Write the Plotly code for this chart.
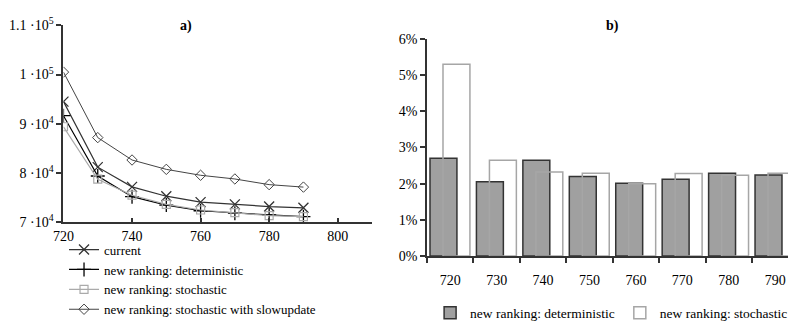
import plotly.graph_objects as go

# ---- data panel a ----
x_a = [720, 730, 740, 750, 760, 770, 780, 790]
current = [94500, 81200, 77200, 75300, 74100, 73650, 73200, 72950]
deterministic = [91650, 79400, 75200, 73500, 72350, 71850, 71500, 71150]
stochastic = [89400, 78750, 75500, 73650, 72500, 71950, 71350, 71150]
slowupdate = [100500, 87200, 82650, 80750, 79550, 78800, 77650, 77150]
a_yticks = [70000, 80000, 90000, 100000, 110000]
a_yticktext = ["7 ·10<sup>4</sup>", "8 ·10<sup>4</sup>", "9 ·10<sup>4</sup>",
               "1 ·10<sup>5</sup>", "1.1 ·10<sup>5</sup>"]
a_xticks = [720, 740, 760, 780, 800]

# ---- data panel b ----
cats_b = ["720", "730", "740", "750", "760", "770", "780", "790"]
det_pct = [2.70, 2.05, 2.65, 2.20, 2.01, 2.12, 2.29, 2.24]
sto_pct = [5.30, 2.65, 2.32, 2.29, 2.00, 2.28, 2.23, 2.29]
b_yticks = [0, 1, 2, 3, 4, 5, 6]
b_yticktext = [f"{v}%" for v in b_yticks]

FONT = "Liberation Serif, Times New Roman, Times, serif"
AX = "#333333"
W, H = 788, 313  # page body has an 8px margin

fig = go.Figure()

fig.add_trace(go.Scatter(x=x_a, y=current, name="current", mode="lines+markers",
                         line=dict(color="#333333", width=1.2),
                         marker=dict(symbol="x-thin", size=10, line=dict(color="#333333", width=1.3)),
                         xaxis="x", yaxis="y", legend="legend"))
fig.add_trace(go.Scatter(x=x_a, y=deterministic, name="new ranking: deterministic", mode="lines+markers",
                         line=dict(color="#000000", width=1.2),
                         marker=dict(symbol="cross-thin", size=10, line=dict(color="#000000", width=1.3)),
                         xaxis="x", yaxis="y", legend="legend"))
fig.add_trace(go.Scatter(x=x_a, y=stochastic, name="new ranking: stochastic", mode="lines+markers",
                         line=dict(color="#aaaaaa", width=1.2),
                         marker=dict(symbol="square-open", size=8, color="#aaaaaa", line=dict(width=1.2)),
                         xaxis="x", yaxis="y", legend="legend"))
fig.add_trace(go.Scatter(x=x_a, y=slowupdate, name="new ranking: stochastic with slowupdate", mode="lines+markers",
                         line=dict(color="#444444", width=1),
                         marker=dict(symbol="diamond-open", size=8, color="#444444", line=dict(width=1)),
                         xaxis="x", yaxis="y", legend="legend"))

fig.add_trace(go.Bar(x=cats_b, y=det_pct, name="new ranking: deterministic",
                     width=0.58, offset=-0.435,
                     marker=dict(color="#a0a0a0", line=dict(color="#333333", width=1.5)),
                     xaxis="x2", yaxis="y2", legend="legend2"))
fig.add_trace(go.Bar(x=cats_b, y=sto_pct, name="new ranking: stochastic",
                     width=0.58, offset=-0.155,
                     marker=dict(color="rgba(255,255,255,0)", line=dict(color="#a6a6a6", width=1.5)),
                     xaxis="x2", yaxis="y2", legend="legend2"))

common = dict(showgrid=False, zeroline=False, color="#000000", automargin=False,
              tickfont=dict(family=FONT, size=14, color="#000"),
              linecolor=AX, tickcolor=AX)

fig.update_layout(
    width=W, height=H,
    margin=dict(l=0, r=0, t=0, b=0, autoexpand=False),
    paper_bgcolor="white", plot_bgcolor="white",
    font=dict(family=FONT, size=14, color="#000"),
    barmode="overlay",
    xaxis=dict(domain=[0.0704, 0.4619], range=[720, 810], anchor="y",
               tickmode="array", tickvals=a_xticks, ticks="inside", ticklen=5, tickwidth=1.5,
               showline=True, linewidth=1.5, **common),
    xaxis3=dict(overlaying="x", anchor="y", range=[720, 810], tickmode="array", tickvals=a_xticks,
                ticks="outside", ticklen=5, tickwidth=1.5, showticklabels=False, showline=False,
                showgrid=False, zeroline=False, tickcolor=AX, automargin=False),
    yaxis=dict(domain=[0.3153, 0.9447], range=[70000, 110000], anchor="x",
               tickmode="array", tickvals=a_yticks, ticktext=a_yticktext,
               ticks="outside", ticklen=5, tickwidth=1.5,
               showline=True, linewidth=2, **common),
    yaxis3=dict(overlaying="y", anchor="x", range=[70000, 110000], tickmode="array", tickvals=a_yticks,
                ticks="inside", ticklen=5, tickwidth=1.5, showticklabels=False, showline=False,
                showgrid=False, zeroline=False, tickcolor=AX, automargin=False),
    xaxis2=dict(domain=[0.5317, 1.0], type="category", range=[-0.5, 7.447], anchor="y2",
                tickson="boundaries", ticks="outside", ticklen=5, tickwidth=1.5,
                ticklabelstandoff=10,
                showline=True, linewidth=1.5, **common),
    yaxis2=dict(domain=[0.2077, 0.9010], range=[0, 6], anchor="x2",
                tickmode="array", tickvals=b_yticks, ticktext=b_yticktext,
                ticks="outside", ticklen=5, tickwidth=1.5,
                showline=True, linewidth=1.5, **common),
    legend=dict(x=0.0711, y=0.276, xanchor="left", yanchor="top", orientation="v",
                font=dict(family=FONT, size=13, color="#000"), tracegroupgap=0,
                bgcolor="rgba(0,0,0,0)"),
    legend2=dict(x=0.766, y=0.0256, xanchor="center", yanchor="middle", orientation="h",
                 font=dict(family=FONT, size=13.5, color="#000"), bgcolor="rgba(0,0,0,0)"),
    showlegend=True,
    annotations=[
        dict(text="<b>a)</b>", x=170 / W, y=1 - 8 / H, xref="paper", yref="paper",
             showarrow=False, font=dict(family=FONT, size=14)),
        dict(text="<b>b)</b>", x=613 / W, y=1 - 8 / H, xref="paper", yref="paper",
             showarrow=False, font=dict(family=FONT, size=14)),
    ],
)

fig.write_html("out.html")
